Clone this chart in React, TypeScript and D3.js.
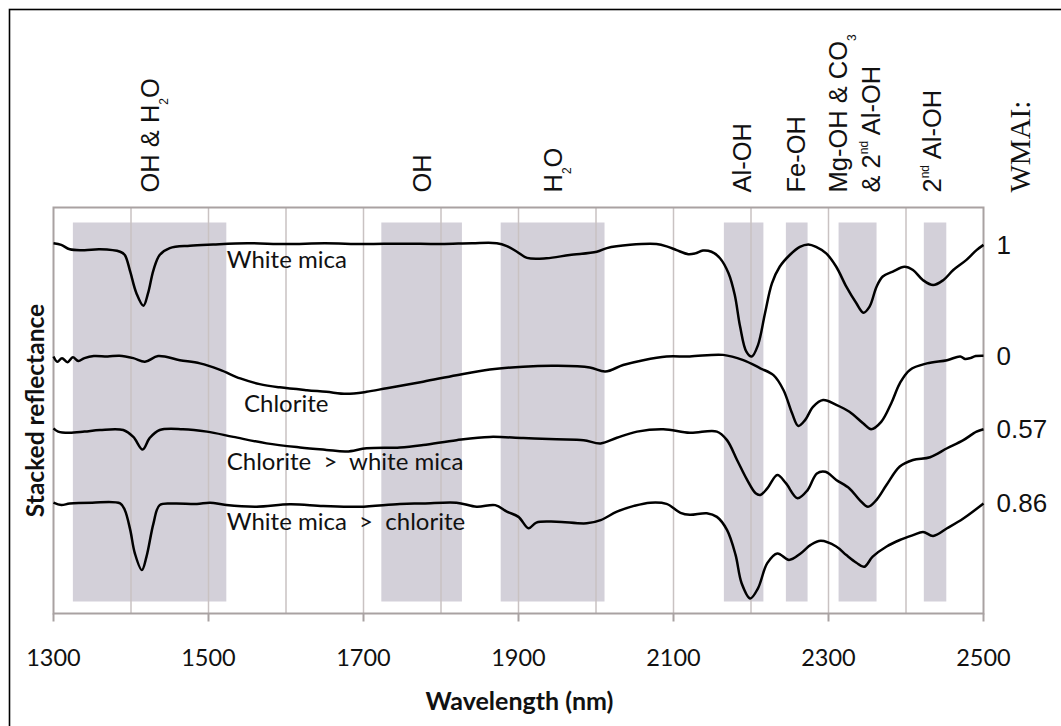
import React from "react";
import * as d3 from "d3";

const WIDTH = 1061;
const HEIGHT = 726;
const plot = { left: 53.5, right: 983.5, top: 207.5, bottom: 613.5 };

// Wavelength axis (nm)
const xTicks = [1300, 1500, 1700, 1900, 2100, 2300, 2500];
const gridWavelengths = [1400, 1500, 1600, 1700, 1800, 1900, 2000, 2100, 2200, 2300, 2400];

// Absorption feature windows (nm)
const bandStarts = [1325, 1723, 1877, 2165, 2245, 2313, 2423];
const bandEnds = [1523, 1827, 2011, 2216, 2273, 2362, 2452];

// Stacked reflectance spectra: [wavelength nm, stacked reflectance]
const whiteMica: [number, number][] = [
  [1300, 91.2], [1310, 90.8], [1321, 89.7], [1340, 89.5], [1360, 89.7], [1386, 89.1],
  [1392, 88.3], [1399, 84.2], [1407, 78.9], [1416, 75.8], [1422, 78.9], [1429, 84.6],
  [1437, 88.3], [1450, 90.0], [1476, 90.6], [1506, 90.9], [1550, 91.2], [1600, 91.0],
  [1650, 91.2], [1700, 91.0], [1750, 91.1], [1800, 91.0], [1840, 91.2], [1872, 91.2],
  [1885, 90.5], [1898, 89.1], [1911, 87.6], [1936, 87.5], [1966, 88.3], [2001, 89.1],
  [2014, 90.0], [2044, 90.8], [2078, 91.0], [2093, 90.3], [2104, 89.5], [2119, 88.5],
  [2128, 88.7], [2138, 89.4], [2149, 89.1], [2160, 87.5], [2171, 83.8], [2179, 78.5],
  [2186, 70.6], [2194, 64.5], [2201, 63.3], [2209, 66.1], [2218, 73.9], [2227, 81.3],
  [2237, 85.4], [2250, 88.3], [2263, 90.3], [2274, 90.9], [2284, 90.3], [2297, 88.7],
  [2310, 85.4], [2323, 80.5], [2336, 76.4], [2345, 74.1], [2353, 75.6], [2362, 80.5],
  [2370, 83.0], [2383, 84.2], [2398, 85.4], [2409, 84.6], [2422, 82.1], [2435, 80.9],
  [2448, 82.1], [2461, 84.6], [2478, 87.1], [2491, 89.5], [2500, 90.8],
];

const chlorite: [number, number][] = [
  [1300, 63.3], [1305, 62.0], [1311, 62.9], [1318, 61.9], [1325, 63.1], [1332, 62.2],
  [1340, 62.9], [1352, 63.4], [1370, 63.3], [1385, 63.5], [1403, 62.9], [1418, 62.0],
  [1435, 63.4], [1463, 62.4], [1489, 61.6], [1515, 60.0], [1541, 57.9], [1566, 56.5],
  [1592, 55.7], [1627, 55.0], [1652, 54.6], [1678, 54.1], [1704, 54.6], [1730, 55.5],
  [1777, 57.1], [1820, 58.7], [1863, 60.1], [1906, 60.8], [1949, 61.0], [1992, 60.6],
  [2012, 59.6], [2035, 61.2], [2061, 62.4], [2091, 63.3], [2121, 63.3], [2164, 63.7],
  [2190, 62.4], [2212, 60.4], [2229, 58.7], [2242, 55.0], [2253, 49.3], [2261, 46.2],
  [2270, 47.7], [2280, 50.9], [2293, 52.6], [2310, 51.4], [2327, 49.7], [2345, 46.8],
  [2355, 45.4], [2368, 47.2], [2381, 51.8], [2392, 56.7], [2405, 60.0], [2427, 61.6],
  [2453, 62.4], [2470, 63.3], [2476, 62.7], [2483, 62.9], [2490, 63.4], [2500, 63.5],
];

const chloriteOverMica: [number, number][] = [
  [1300, 45.6], [1306, 44.8], [1320, 44.5], [1340, 44.8], [1360, 45.2], [1390, 45.2],
  [1403, 43.5], [1415, 40.4], [1424, 43.2], [1437, 45.2], [1467, 45.4], [1498, 44.8],
  [1532, 43.5], [1575, 41.9], [1618, 40.9], [1652, 40.3], [1678, 39.9], [1704, 40.7],
  [1747, 40.9], [1777, 41.5], [1820, 42.7], [1863, 43.5], [1906, 43.2], [1949, 42.9],
  [1984, 42.7], [2006, 41.9], [2027, 43.3], [2053, 44.8], [2087, 45.4], [2121, 44.5],
  [2156, 44.8], [2169, 42.7], [2182, 37.8], [2195, 32.9], [2206, 29.6], [2212, 29.2],
  [2221, 30.8], [2234, 34.1], [2245, 32.1], [2260, 28.4], [2273, 30.4], [2285, 34.5],
  [2296, 34.9], [2310, 32.9], [2327, 30.8], [2340, 28.0], [2351, 26.3], [2362, 28.0],
  [2375, 31.7], [2392, 36.2], [2409, 37.8], [2431, 38.5], [2453, 40.7], [2474, 42.7],
  [2491, 44.8], [2500, 45.4],
];

const micaOverChlorite: [number, number][] = [
  [1300, 27.3], [1310, 26.7], [1321, 27.1], [1350, 27.3], [1386, 27.1], [1392, 25.5],
  [1399, 20.6], [1405, 14.8], [1414, 10.7], [1420, 14.0], [1429, 22.2], [1437, 26.7],
  [1455, 27.1], [1485, 27.0], [1502, 27.3], [1523, 26.7], [1562, 26.3], [1605, 26.9],
  [1648, 26.5], [1695, 26.3], [1747, 27.0], [1777, 27.1], [1820, 27.3], [1846, 26.3],
  [1870, 26.7], [1885, 25.1], [1900, 23.8], [1913, 21.0], [1923, 22.4], [1949, 22.6],
  [1988, 22.2], [2006, 23.0], [2027, 25.1], [2049, 26.5], [2070, 27.3], [2091, 27.0],
  [2109, 24.8], [2121, 24.3], [2143, 24.7], [2156, 23.8], [2169, 20.6], [2180, 14.5],
  [2188, 7.4], [2199, 3.7], [2209, 6.2], [2221, 12.4], [2234, 14.8], [2249, 13.2],
  [2264, 14.8], [2277, 16.9], [2290, 17.9], [2310, 16.5], [2323, 14.4], [2336, 12.5],
  [2346, 11.5], [2357, 14.0], [2375, 16.5], [2392, 18.1], [2409, 19.3], [2422, 20.1],
  [2435, 19.1], [2453, 21.0], [2474, 23.4], [2500, 27.1],
];

const spectra = [whiteMica, chlorite, chloriteOverMica, micaOverChlorite];
const sampleNames = ["White mica", "Chlorite", "Chlorite  >  white mica", "White mica  >  chlorite"];
const wmaiValues = ["1", "0", "0.57", "0.86"];
// Where each sample name sits: [wavelength nm, stacked reflectance]
const nameAnchors: [number, number][] = [[1523.5, 85.0], [1545.8, 49.7], [1523.5, 35.3], [1523.5, 20.6]];

// Feature captions along the top; segments are [text, kind]
type Seg = [string, string?];
const featureCentres = [1424.5, 1776, 1944, 2189, 2258, 2333.5, 2434];
const featureCaptions: Seg[][][] = [
  [[["OH & H"], ["2", "sub"], ["O"]]],
  [[["OH"]]],
  [[["H"], ["2", "sub"], ["O"]]],
  [[["Al-OH"]]],
  [[["Fe-OH"]]],
  [[["Mg-OH & CO"], ["3", "sub"]], [["& 2"], ["nd", "sup"], [" Al-OH"]]],
  [[["2"], ["nd", "sup"], [" Al-OH"]]],
];

const x = d3.scaleLinear().domain([1300, 2500]).range([plot.left, plot.right]);
const y = d3.scaleLinear().domain([0, 100]).range([plot.bottom, plot.top]);

const line = d3
  .line<[number, number]>()
  .x((d) => x(d[0]))
  .y((d) => y(d[1]))
  .curve(d3.curveCatmullRom.alpha(0.5));

const FRAME_GREY = "#a9a2a2";
const GRID_GREY = "#c9c2c2";
const BAND_FILL = "#d3d0d9";
const SANS = "'Liberation Sans', Arial, sans-serif";
const CAL = "Lato, 'Open Sans', sans-serif";

function segments(segs: Seg[]) {
  let shift = 0;
  return segs.map(([text, kind], i) => {
    const target = kind === "sub" ? 9 : kind === "sup" ? -12 : 0;
    const dy = target - shift;
    shift = target;
    return (
      <tspan key={i} dy={dy} fontSize={kind ? 12 : undefined}>
        {text}
      </tspan>
    );
  });
}

export default function App() {
  const captionStart = 192.5;
  const lineGap = 33;
  const capHalf = 9;

  return (
    <svg
      width={WIDTH}
      height={HEIGHT}
      viewBox={`0 0 ${WIDTH} ${HEIGHT}`}
      style={{ position: "absolute", left: 0, top: 0, background: "#fff" }}
    >
      {/* outer figure frame */}
      <rect x={9.5} y={9.5} width={WIDTH + 20} height={HEIGHT + 20} fill="none" stroke="#000" strokeWidth={1.6} />

      {/* feature windows */}
      {bandStarts.map((s, i) => (
        <rect
          key={i}
          x={x(s)}
          y={plot.top + 15}
          width={x(bandEnds[i]) - x(s)}
          height={plot.bottom - plot.top - 27}
          fill={BAND_FILL}
        />
      ))}

      {/* vertical gridlines */}
      {gridWavelengths.map((w) => (
        <line key={w} x1={x(w)} x2={x(w)} y1={plot.top} y2={plot.bottom} stroke={GRID_GREY} strokeWidth={1.5} />
      ))}

      {/* plot frame and axis */}
      <rect
        x={plot.left}
        y={plot.top}
        width={plot.right - plot.left}
        height={plot.bottom - plot.top}
        fill="none"
        stroke={FRAME_GREY}
        strokeWidth={2}
      />
      {xTicks.map((t) => (
        <g key={t}>
          <line x1={x(t)} x2={x(t)} y1={plot.bottom} y2={plot.bottom + 8} stroke={FRAME_GREY} strokeWidth={2} />
          <text x={x(t)} y={666} textAnchor="middle" fontFamily={CAL} fontSize={23.5} fill="#111">
            {t}
          </text>
        </g>
      ))}

      {/* spectra */}
      {spectra.map((s, i) => (
        <path key={i} d={line(s) ?? ""} fill="none" stroke="#000" strokeWidth={2.5} strokeLinejoin="round" />
      ))}

      {/* sample names */}
      {sampleNames.map((n, i) => (
        <text
          key={n}
          x={x(nameAnchors[i][0])}
          y={y(nameAnchors[i][1])}
          fontFamily={CAL}
          fontSize={24}
          fill="#111"
          style={{ whiteSpace: "pre" }}
        >
          {n}
        </text>
      ))}

      {/* WMAI values at the spectrum ends */}
      {wmaiValues.map((v, i) => {
        const s = spectra[i];
        return (
          <text
            key={i}
            x={plot.right + 13}
            y={y(s[s.length - 1][1])}
            dominantBaseline="central"
            fontFamily={SANS}
            fontSize={26}
            fill="#111"
          >
            {v}
          </text>
        );
      })}

      {/* feature captions */}
      {featureCentres.map((c, i) => {
        const lines = featureCaptions[i];
        return lines.map((segs, j) => {
          const bx = x(c) - ((lines.length - 1) * lineGap) / 2 + j * lineGap + capHalf;
          return (
            <text
              key={`${i}-${j}`}
              transform={`translate(${bx},${captionStart}) rotate(-90)`}
              fontFamily={SANS}
              fontSize={25.5}
              fill="#111"
              style={{ whiteSpace: "pre" }}
            >
              {segments(segs)}
            </text>
          );
        });
      })}

      <text
        transform={`translate(${plot.right + 46.5},${captionStart}) rotate(-90)`}
        fontFamily="'Liberation Serif', 'Times New Roman', serif"
        fontSize={29}
        fill="#111"
      >
        WMAI:
      </text>

      {/* axis titles */}
      <text
        transform={`translate(43.5,${(plot.top + plot.bottom) / 2}) rotate(-90)`}
        textAnchor="middle"
        fontFamily={CAL}
        fontWeight="bold"
        fontSize={24.5}
        fill="#111"
      >
        Stacked reflectance
      </text>
      <text
        x={(plot.left + plot.right) / 2 + 1}
        y={710}
        textAnchor="middle"
        fontFamily={CAL}
        fontWeight="bold"
        fontSize={25}
        fill="#111"
      >
        Wavelength (nm)
      </text>
    </svg>
  );
}
